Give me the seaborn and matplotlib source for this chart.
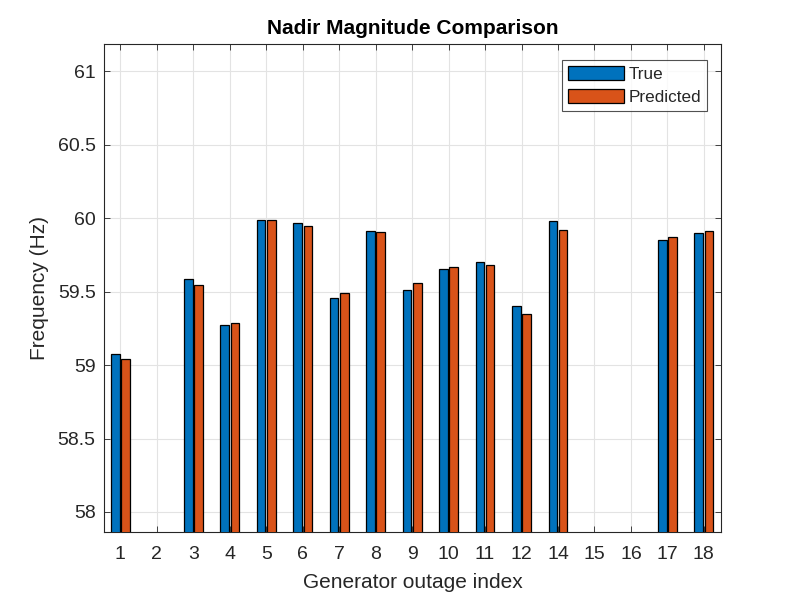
import numpy as np
import pandas as pd
import matplotlib
matplotlib.use("Agg")
import matplotlib.pyplot as plt
import seaborn as sns

categories = ["1", "2", "3", "4", "5", "6", "7", "8", "9", "10", "11", "12",
              "14", "15", "16", "17", "18"]
true_vals = [59.075, np.nan, 59.585, 59.275, 59.986, 59.966, 59.456, 59.912,
             59.508, 59.655, 59.700, 59.400, 59.982, np.nan, np.nan, 59.848, 59.895]
pred_vals = [59.043, np.nan, 59.544, 59.286, 59.986, 59.948, 59.490, 59.905,
             59.560, 59.669, 59.678, 59.349, 59.920, np.nan, np.nan, 59.871, 59.909]
series_names = ["True", "Predicted"]
yticks = [58, 58.5, 59, 59.5, 60, 60.5, 61]

df = pd.DataFrame({
    "idx": categories * 2,
    "value": true_vals + pred_vals,
    "series": [series_names[0]] * len(categories) + [series_names[1]] * len(categories),
})

sns.set_style("white")
plt.rcParams["font.family"] = ["Liberation Sans", "DejaVu Sans"]

fig = plt.figure(figsize=(7.97, 5.98), dpi=100)
ax = fig.add_axes([0.1305, 0.1104, 0.9046 - 0.1305, 0.9264 - 0.1104])

sns.barplot(data=df, x="idx", y="value", hue="series", order=categories,
            hue_order=series_names, palette=["#0072BD", "#D95319"], saturation=1,
            width=0.56, gap=0.16, errorbar=None, edgecolor="black",
            linewidth=0.9, ax=ax, zorder=3)

ax.set_ylim(57.864, 61.184)
ax.set_xlim(-0.45, 16.47)
ax.set_yticks(yticks)
ax.set_yticklabels([f"{v:g}" for v in yticks])
ax.grid(True, color="#e3e3e3", linewidth=0.8, zorder=0)
ax.set_axisbelow(True)
for s in ax.spines.values():
    s.set_color("#262626")
    s.set_linewidth(0.8)
ax.tick_params(axis="both", direction="in", length=4, width=0.6, colors="#262626",
               labelsize=14, top=True, right=True, bottom=True, left=True, pad=6)
ax.tick_params(axis="x", pad=10)
ax.set_xlabel("Generator outage index", fontsize=15, color="#262626", labelpad=7)
ax.set_ylabel("Frequency (Hz)", fontsize=15, color="#262626", labelpad=6)
ax.set_title("Nadir Magnitude Comparison", fontsize=15, fontweight="bold", color="black", pad=7)

leg = ax.legend(loc="upper right", bbox_to_anchor=(0.9775, 0.968), fontsize=12.3,
                frameon=True, fancybox=False, handlelength=3.3, handleheight=0.95,
                handletextpad=0.25, borderpad=0.35, labelspacing=0.4, borderaxespad=0)
leg.get_frame().set_edgecolor("#262626")
leg.get_frame().set_linewidth(0.8)

fig.savefig("out.png", dpi=100)
